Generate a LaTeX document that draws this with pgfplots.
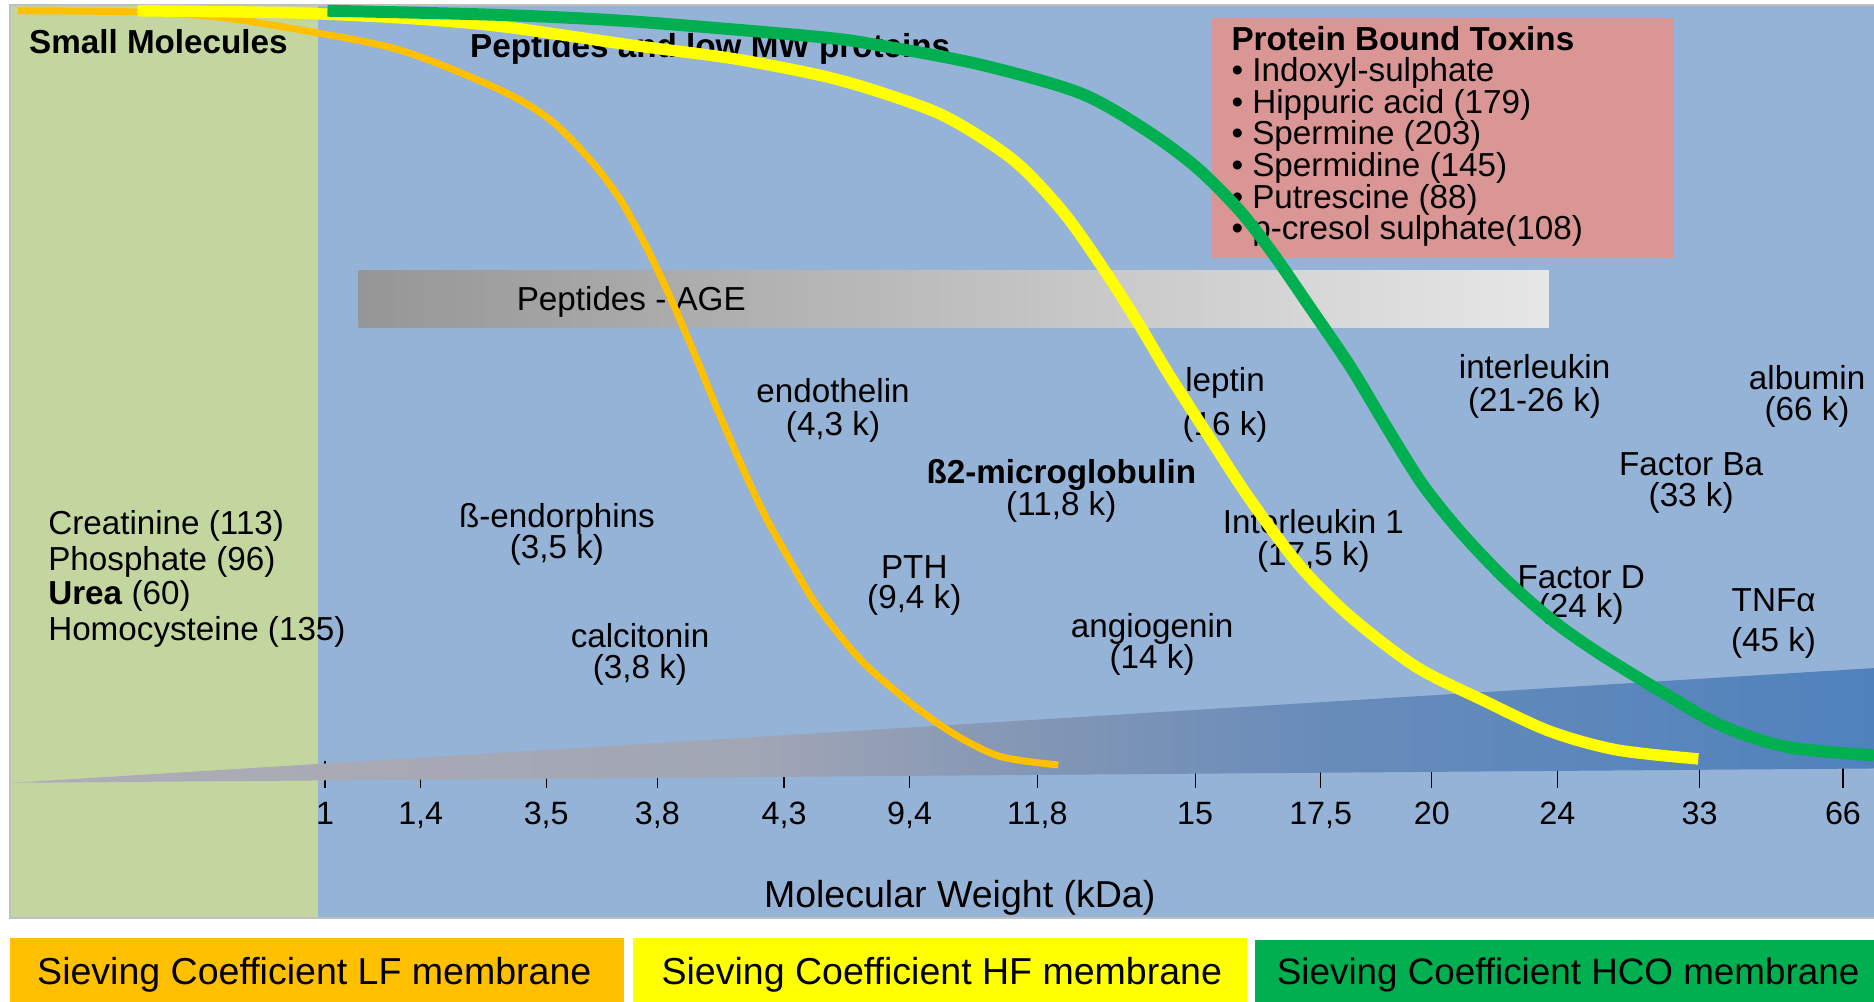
\documentclass[border=0pt]{standalone}
\usepackage{fontspec}
\setmainfont{Liberation Sans}
\usepackage{pgfplots}
\pgfplotsset{compat=1.18}

\definecolor{smallbg}{RGB}{196,214,160}
\definecolor{protbg}{RGB}{149,179,215}
\definecolor{lfcol}{RGB}{255,192,0}
\definecolor{hfcol}{RGB}{255,255,0}
\definecolor{hcocol}{RGB}{0,176,80}
\definecolor{toxbg}{RGB}{217,150,148}
\definecolor{framecol}{RGB}{192,192,192}
\definecolor{agedark}{RGB}{150,150,150}
\definecolor{agelight}{RGB}{231,231,231}

% grey-to-blue wedge under the molecular weight scale
% (TikZ maps the path onto the 25bp..75bp band of the shading)
\pgfdeclarehorizontalshading{mwwedge}{100bp}{%
  rgb(0bp)=(0.68,0.68,0.71); rgb(25bp)=(0.68,0.68,0.71);
  rgb(45bp)=(0.63,0.65,0.71); rgb(52.5bp)=(0.51,0.59,0.71);
  rgb(60bp)=(0.41,0.55,0.73); rgb(75bp)=(0.31,0.51,0.74);
  rgb(100bp)=(0.31,0.51,0.74)}

\newcommand\lblfont{\fontsize{13.9}{13.5}\selectfont}
\newcommand\bigfont{\fontsize{15.7}{16}\selectfont}
\tikzset{lbl/.style={font=\lblfont, inner sep=0pt, anchor=base},
         lblw/.style={lbl, anchor=base west}}
% two-line molecule label: x, baseline 1, baseline 2, name, weight
\newcommand\mol[5]{%
  \node[lbl] at (axis cs:#1,#2) {#4};
  \node[lbl] at (axis cs:#1,#3) {#5};}

\begin{document}
\begin{tikzpicture}
\begin{axis}[
  set layers,
  x=0.5pt, y=0.5pt,
  y dir=reverse,
  xmin=8, xmax=1568, ymin=4, ymax=659,
  scale only axis,
  clip=false,
  axis line style={draw=none},
  ytick=\empty,
  xtick={272,352,457,550,656,761,868,1000,1105,1198,1303,1422,1542},
  xticklabels={1,{1,4},{3,5},{3,8},{4,3},{9,4},{11,8},15,{17,5},20,24,33,66},
  xtick pos=left,
  xticklabel pos=left,
  xtick align=inside,
  major tick length=11pt,
  tick style={black, line width=0.55pt},
  xticklabel style={font=\fontsize{13.5}{14}\selectfont, anchor=base,
                    yshift=-15.5pt, inner sep=0pt},
]
\begin{pgfonlayer}{axis background}
  \fill[smallbg] (axis cs:8,4) rectangle (axis cs:266,768);
  \fill[protbg] (axis cs:266,4) rectangle (axis cs:1570,768);
  \draw[framecol, line width=0.8pt] (axis cs:8,4) rectangle (axis cs:1572,768);
\end{pgfonlayer}

% molecular weight wedge
\shade[shading=mwwedge] (axis cs:10,655) -- (axis cs:1568,559)
  -- (axis cs:1568,643) -- cycle;

% toxins box and AGE bar
\fill[toxbg] (axis cs:1014,15.3) rectangle (axis cs:1400,216);
\shade[left color=agedark, right color=agelight]
  (axis cs:300,226.7) rectangle (axis cs:1296,274.2);
\node[lblw] at (axis cs:432,259.4) {Peptides - AGE};

% group titles
\node[lblw] at (axis cs:24,45) {\bfseries Small Molecules};
\node[lblw] at (axis cs:393,48) {\bfseries Peptides and low MW proteins};
\node[lblw] at (axis cs:1030,42.4) {\bfseries Protein Bound Toxins};
\node[lblw] at (axis cs:1030,68.3) {• Indoxyl-sulphate};
\node[lblw] at (axis cs:1030,94.8) {• Hippuric acid (179)};
\node[lblw] at (axis cs:1030,121.3) {• Spermine (203)};
\node[lblw] at (axis cs:1030,147.8) {• Spermidine (145)};
\node[lblw] at (axis cs:1030,174.3) {• Putrescine (88)};
\node[lblw] at (axis cs:1030,200.8) {• p-cresol sulphate(108)};

% small molecules
\node[lblw] at (axis cs:40,447.6) {Creatinine (113)};
\node[lblw] at (axis cs:40,477) {Phosphate (96)};
\node[lblw] at (axis cs:40,506) {\textbf{Urea} (60)};
\node[lblw] at (axis cs:40,536) {Homocysteine (135)};

% middle molecules
\mol{697}{337}{364}{endothelin}{(4,3 k)}
\mol{466}{441.5}{467.5}{ß-endorphins}{(3,5 k)}
\mol{535.5}{542}{568}{calcitonin}{(3,8 k)}
\mol{765}{484}{509.5}{PTH}{(9,4 k)}
\mol{888}{404.5}{431}{\bfseries ß2-microglobulin}{(11,8 k)}
\mol{964}{533}{559}{angiogenin}{(14 k)}
\mol{1025}{328}{364}{leptin}{(16 k)}
\mol{1099}{446}{473}{Interleukin 1}{(17,5 k)}
\mol{1284}{317}{344}{interleukin}{(21-26 k)}
\mol{1512}{326}{352}{albumin}{(66 k)}
\mol{1415}{398}{424}{Factor Ba}{(33 k)}
\mol{1323}{492}{517}{Factor D}{(24 k)}
\mol{1484}{512}{545}{TNFα}{(45 k)}

\node[font=\bigfont, inner sep=0pt, anchor=base] at (axis cs:803,759) {Molecular Weight (kDa)};

% legend strip
\fill[lfcol] (axis cs:8,785) rectangle (axis cs:522,840);
\fill[hfcol] (axis cs:530,785) rectangle (axis cs:1043,840);
\fill[hcocol] (axis cs:1050,786.5) rectangle (axis cs:1580,840);
\node[font=\bigfont, inner sep=0pt, anchor=base] at (axis cs:263,824) {Sieving Coefficient LF membrane};
\node[font=\bigfont, inner sep=0pt, anchor=base] at (axis cs:788,824) {Sieving Coefficient HF membrane};
\node[font=\fontsize{15.4}{16}\selectfont, inner sep=0pt, anchor=base west] at (axis cs:1068,824) {Sieving Coefficient HCO membrane};

% sieving coefficient curves
\addplot[lfcol, line width=2.9pt, smooth] coordinates {
  (15,9) (115,10) (180,14) (251,25) (335,42) (418,75) (460,100) (494,134)
  (519,167) (540,205) (560,247) (579,291) (597,335) (612,370) (627,404)
  (642,435) (657,462) (683,506) (720,552) (759,586) (798,614) (837,633)
  (885.5,640)};
\addplot[hfcol, line width=4.8pt, smooth] coordinates {
  (115,9) (200,10) (251,11) (335,15) (418,22) (530,38) (613,49) (686,63)
  (736,77) (792,98) (848,134) (890,178) (926,229) (954,273) (976,310)
  (1010,363) (1046,418) (1088,474) (1130,516) (1185,558) (1241,586)
  (1297,612) (1353,627.5) (1421,635)};
\addplot[hcocol, line width=5pt, smooth] coordinates {
  (274,9) (418,12.5) (530,18) (686,31) (736,38) (820,54) (904,78) (959,109)
  (1001,140) (1037,176) (1065,212) (1096,257) (1130,307) (1160,357)
  (1190,405) (1222,445) (1260,485) (1300,520) (1340,548) (1394,581)
  (1440,607) (1495,625) (1568,632)};

\coordinate (pgbl) at (axis cs:0,838);
\coordinate (pgtr) at (axis cs:1568,0);
\end{axis}
\pgfresetboundingbox
\path[use as bounding box] (pgbl) rectangle (pgtr);
\end{tikzpicture}
\end{document}
